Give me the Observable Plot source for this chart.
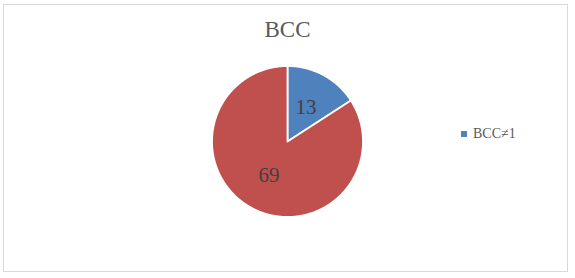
<!DOCTYPE html>
<html><head><meta charset="utf-8">
<script src="https://cdn.jsdelivr.net/npm/d3@7"></script>
<script src="https://cdn.jsdelivr.net/npm/@observablehq/plot@0.6"></script>
<style>
html,body{margin:0;padding:0;background:#fff;}
#wrap{position:relative;width:575px;height:278px;overflow:hidden;font-family:"Liberation Serif","Times New Roman",serif;}
#frame{position:absolute;left:3px;top:4px;width:565px;height:268px;border:1px solid #d9d9d9;box-sizing:border-box;}
#title{position:absolute;left:0;width:575px;top:17px;text-align:center;font-size:23px;color:#595959;}
#legend{position:absolute;left:461px;top:126px;font-size:14px;color:#595959;white-space:nowrap;}
#legend .sw{display:inline-block;width:6px;height:6px;margin-right:6px;vertical-align:1px;}
#chart{position:absolute;left:0;top:0;}
</style></head>
<body><div id="wrap"><div id="frame"></div><div id="title">BCC</div><div id="legend"></div><div id="chart"></div></div>
<script>
const categories = ["BCC≠1", "BCC=1"];
const values = [13, 69];
const colors = ["#4F81BD", "#C0504D"];
const legendCategories = ["BCC≠1"];
const titleText = "BCC";

const W = 575, H = 278, cx = 287, cy = 141, R = 75.5;
const pie = d3.pie().sort(null).value(d => d.value);
const arcs = pie(categories.map((c, i) => ({name: c, value: values[i]})));

const pts = [];
arcs.forEach(a => {
  const n = Math.max(4, Math.ceil((a.endAngle - a.startAngle) / 0.01));
  pts.push({name: a.data.name, x: 0, y: 0});
  for (let k = 0; k <= n; k++) {
    const t = a.startAngle + (a.endAngle - a.startAngle) * k / n;
    pts.push({name: a.data.name, x: Math.sin(t), y: Math.cos(t)});
  }
  pts.push({name: a.data.name, x: 0, y: 0});
});
const labels = arcs.map(a => {
  const m = (a.startAngle + a.endAngle) / 2, r = 0.51;
  return {name: a.data.name, value: a.data.value, x: r * Math.sin(m), y: r * Math.cos(m)};
});

const chart = Plot.plot({
  width: W, height: H,
  margin: 0,
  x: {domain: [-cx / R, (W - cx) / R], axis: null},
  y: {domain: [-(H - cy) / R, cy / R], axis: null},
  color: {domain: categories, range: colors},
  style: {background: "transparent", overflow: "visible"},
  marks: [
    Plot.line(pts, {x: "x", y: "y", z: "name", fill: "name", stroke: "white", strokeWidth: 1.8, curve: "linear-closed", strokeLinejoin: "round"}),
    Plot.text(labels, {x: "x", y: "y", text: d => String(d.value), fill: "#404040", fontSize: 21, fontFamily: "Liberation Serif, Times New Roman, serif"})
  ]
});
document.getElementById("chart").appendChild(chart);
document.getElementById("title").textContent = titleText;
const leg = document.getElementById("legend");
legendCategories.forEach(c => {
  const i = categories.indexOf(c);
  const s = document.createElement("span");
  s.innerHTML = `<span class="sw" style="background:${colors[i]}"></span>${c}`;
  leg.appendChild(s);
});
</script></body></html>
